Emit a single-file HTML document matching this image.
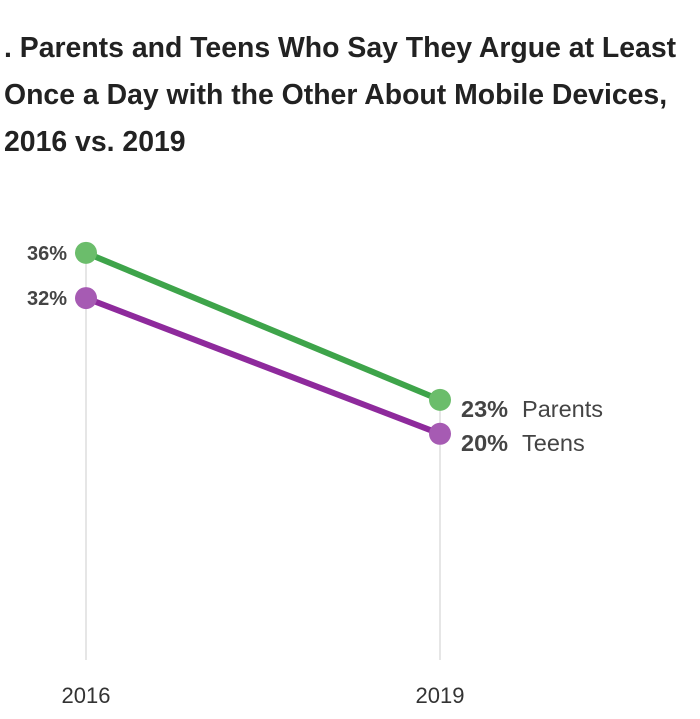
<!DOCTYPE html>
<html><head><meta charset="utf-8"><style>
body{margin:0;background:#fff;width:700px;height:719px;overflow:hidden;font-family:"Liberation Sans",sans-serif}
.t{position:absolute;left:4px;font-weight:bold;font-size:28.4px;color:#222;line-height:47px;top:25px;white-space:nowrap}
</style></head><body>
<div class="t">. Parents and Teens Who Say They Argue at Least<br>Once a Day with the Other About Mobile Devices,<br>2016 vs. 2019</div>
<svg id="c" width="700" height="719" style="position:absolute;left:0;top:0"></svg>
<script>
const years=["2016","2019"];
const seriesNames=["Parents","Teens"];
const parents=[36,23];
const teens=[32,20];
const svg=document.getElementById('c');
const NS='http://www.w3.org/2000/svg';
const x=i=>86+i*354;
const y=v=>660-11.31*v;
function mk(t,a,n){const e=document.createElementNS(NS,t);for(const k in a)e.setAttribute(k,a[k]);


svg.appendChild(e);return e;}
years.forEach((yr,i)=>{
 mk('line',{x1:x(i),x2:x(i),y1:y(Math.max(parents[i],teens[i])),y2:660,stroke:'#ccc','stroke-width':1},'gridline-'+yr);
 const t=mk('text',{x:x(i),y:703,'text-anchor':'middle','font-size':22,fill:'#333'},'x-label-'+yr);t.textContent=yr;
});
const ser=[[parents,'#3ea44a','#6bbd6b'],[teens,'#8e2a9c','#a65bb3']];
ser.forEach(([d,lc,dc],s)=>{
 mk('line',{x1:x(0),y1:y(d[0]),x2:x(1),y2:y(d[1]),stroke:lc,'stroke-width':6},'line-'+seriesNames[s]);
 d.forEach((v,i)=>{
  mk('circle',{cx:x(i),cy:y(v),r:11,fill:dc},'point-'+seriesNames[s]+'-'+years[i]);
 });
 const l=mk('text',{x:67,y:y(d[0])+7,'text-anchor':'end','font-size':20,'font-weight':'bold',fill:'#444'},'value-label-'+seriesNames[s]+'-2016');l.textContent=d[0]+'%';
 const r=mk('text',{x:461,y:y(d[1])+17,'font-size':23.5,fill:'#444'},'value-label-'+seriesNames[s]+'-2019');
 r.innerHTML='<tspan font-weight="bold">'+d[1]+'%</tspan><tspan dx="14">'+seriesNames[s]+'</tspan>';
});
</script>
</body></html>
